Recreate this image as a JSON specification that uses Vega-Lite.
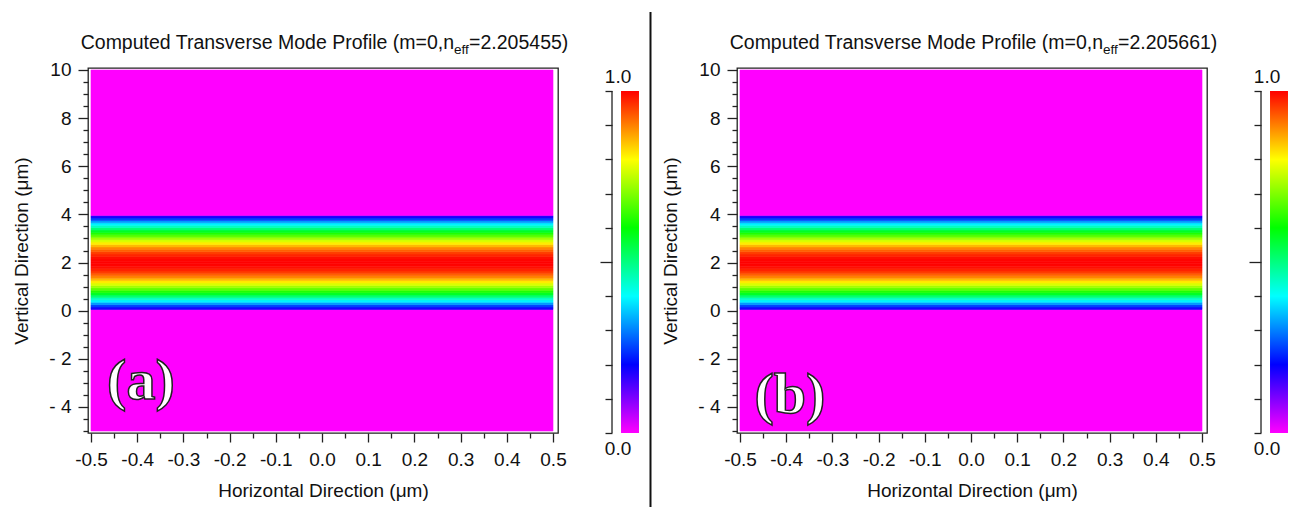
{
  "$schema": "https://vega.github.io/schema/vega-lite/v6.json",
  "background": "white",
  "padding": {"left": 12, "top": 10, "right": 5, "bottom": 0},
  "spacing": 8,
  "datasets": {
    "profile": [
      {"lo": -5, "hi": 0.05, "v": 0},
      {"lo": 0.05, "hi": 0.15, "v": 0.18},
      {"lo": 0.15, "hi": 0.25, "v": 0.25},
      {"lo": 0.25, "hi": 0.35, "v": 0.32},
      {"lo": 0.35, "hi": 0.45, "v": 0.39},
      {"lo": 0.45, "hi": 0.55, "v": 0.45},
      {"lo": 0.55, "hi": 0.65, "v": 0.51},
      {"lo": 0.65, "hi": 0.75, "v": 0.57},
      {"lo": 0.75, "hi": 0.85, "v": 0.625},
      {"lo": 0.85, "hi": 0.95, "v": 0.675},
      {"lo": 0.95, "hi": 1.05, "v": 0.725},
      {"lo": 1.05, "hi": 1.15, "v": 0.77},
      {"lo": 1.15, "hi": 1.25, "v": 0.815},
      {"lo": 1.25, "hi": 1.35, "v": 0.855},
      {"lo": 1.35, "hi": 1.45, "v": 0.895},
      {"lo": 1.45, "hi": 1.55, "v": 0.925},
      {"lo": 1.55, "hi": 1.65, "v": 0.952},
      {"lo": 1.65, "hi": 1.75, "v": 0.973},
      {"lo": 1.75, "hi": 1.85, "v": 0.988},
      {"lo": 1.85, "hi": 1.95, "v": 0.997},
      {"lo": 1.95, "hi": 2.05, "v": 1.0},
      {"lo": 2.05, "hi": 2.15, "v": 0.997},
      {"lo": 2.15, "hi": 2.25, "v": 0.988},
      {"lo": 2.25, "hi": 2.35, "v": 0.973},
      {"lo": 2.35, "hi": 2.45, "v": 0.952},
      {"lo": 2.45, "hi": 2.55, "v": 0.925},
      {"lo": 2.55, "hi": 2.65, "v": 0.895},
      {"lo": 2.65, "hi": 2.75, "v": 0.855},
      {"lo": 2.75, "hi": 2.85, "v": 0.815},
      {"lo": 2.85, "hi": 2.95, "v": 0.77},
      {"lo": 2.95, "hi": 3.05, "v": 0.725},
      {"lo": 3.05, "hi": 3.15, "v": 0.675},
      {"lo": 3.15, "hi": 3.25, "v": 0.625},
      {"lo": 3.25, "hi": 3.35, "v": 0.57},
      {"lo": 3.35, "hi": 3.45, "v": 0.51},
      {"lo": 3.45, "hi": 3.55, "v": 0.45},
      {"lo": 3.55, "hi": 3.65, "v": 0.39},
      {"lo": 3.65, "hi": 3.75, "v": 0.32},
      {"lo": 3.75, "hi": 3.85, "v": 0.25},
      {"lo": 3.85, "hi": 3.95, "v": 0.18},
      {"lo": 3.95, "hi": 10, "v": 0}
    ],
    "one": [{}]
  },
  "hconcat": [
    {
      "width": 470,
      "height": 365,
      "layer": [
        {
          "layer": [
            {
              "data": {"name": "profile"},
              "mark": {"type": "rect", "strokeWidth": 0.6},
              "encoding": {
                "x": {"datum": -0.5, "type": "quantitative",
                  "scale": {"domain": [-0.5065, 0.5108], "nice": false, "zero": false},
                  "axis": {
                    "orient": "bottom",
                    "values": [-0.5,-0.45,-0.4,-0.35,-0.3,-0.25,-0.2,-0.15,-0.1,-0.05,0,0.05,0.1,0.15,0.2,0.25,0.3,0.35,0.4,0.45,0.5],
                    "tickCount": 100,
                    "labelExpr": "round(datum.value*20) % 2 == 0 ? (datum.value < -0.001 ? '-' : '') + format(abs(datum.value), '.1f') : ''",
                    "tickSize": {"condition": {"test": "round(datum.value*20) % 2 == 0", "value": 9}, "value": 5},
                    "labelPadding": 8,
                    "labelFlush": false,
                    "labelOverlap": false,
                    "title": "Horizontal Direction (μm)",
                    "titlePadding": 12
                  }},
                "x2": {"datum": 0.5},
                "y": {"field": "lo", "type": "quantitative",
                  "scale": {"domain": [-5.083, 10.083], "nice": false, "zero": false},
                  "axis": {
                    "orient": "left",
                    "values": [-5,-4.5,-4,-3.5,-3,-2.5,-2,-1.5,-1,-0.5,0,0.5,1,1.5,2,2.5,3,3.5,4,4.5,5,5.5,6,6.5,7,7.5,8,8.5,9,9.5,10],
                    "tickCount": 100,
                    "labelExpr": "datum.value % 2 == 0 ? (datum.value < 0 ? '- ' + abs(datum.value) : '' + datum.value) : ''",
                    "tickSize": {"condition": {"test": "datum.value % 2 == 0", "value": 10}, "value": 5},
                    "labelPadding": 7,
                    "labelOverlap": false,
                    "labelFlush": false,
                    "title": "Vertical Direction (μm)",
                    "titlePadding": 17
                  }},
                "y2": {"field": "hi"},
                "fill": {"field": "v", "type": "quantitative", "legend": null,
                  "scale": {"domain": [0,0.1,0.2,0.3,0.4,0.5,0.6,0.7,0.8,0.9,1],
                    "range": ["#ff00ff","#8000ff","#0000ff","#0080ff","#00ffff","#00ff80","#00ff00","#80ff00","#ffff00","#ff8000","#ff0000"],
                    "interpolate": "rgb"}},
                "stroke": {"field": "v", "type": "quantitative", "legend": null,
                  "scale": {"domain": [0,0.1,0.2,0.3,0.4,0.5,0.6,0.7,0.8,0.9,1],
                    "range": ["#ff00ff","#8000ff","#0000ff","#0080ff","#00ffff","#00ff80","#00ff00","#80ff00","#ffff00","#ff8000","#ff0000"],
                    "interpolate": "rgb"}}
              }
            },
            {
              "data": {"name": "one"},
              "mark": {"type": "text", "text": "Computed Transverse Mode Profile (m=0,n", "align": "right", "baseline": "alphabetic", "font": "Liberation Sans", "fontSize": 19.5, "fill": "#111"},
              "encoding": {
                "x": {"datum": 0.2859, "type": "quantitative"},
                "y": {"datum": 10.872, "type": "quantitative"}
              }
            },
            {
              "data": {"name": "one"},
              "mark": {"type": "text", "text": "eff", "align": "left", "baseline": "alphabetic", "font": "Liberation Sans", "fontSize": 13.5, "fill": "#111"},
              "encoding": {
                "x": {"datum": 0.2859, "type": "quantitative"},
                "y": {"datum": 10.665, "type": "quantitative"}
              }
            },
            {
              "data": {"name": "one"},
              "mark": {"type": "text", "text": "=2.205455)", "align": "left", "baseline": "alphabetic", "font": "Liberation Sans", "fontSize": 19.5, "fill": "#111"},
              "encoding": {
                "x": {"datum": 0.3184, "type": "quantitative"},
                "y": {"datum": 10.872, "type": "quantitative"}
              }
            },
            {
              "data": {"name": "one"},
              "mark": {"type": "text", "text": "(a)", "align": "center", "baseline": "middle", "font": "Liberation Serif", "fontWeight": "bold", "fontSize": 58, "fill": "white", "stroke": "#222", "strokeWidth": 1.5},
              "encoding": {
                "x": {"datum": -0.392, "type": "quantitative"},
                "y": {"datum": -2.96, "type": "quantitative"}
              }
            },
            {
              "data": {"name": "one"},
              "mark": {"type": "rule", "stroke": "#111", "strokeWidth": 2},
              "encoding": {
                "x": {"datum": 0.711, "type": "quantitative"},
                "y": {"datum": 12.41, "type": "quantitative"},
                "y2": {"datum": -8.24}
              }
            }
          ]
        },
        {
          "layer": [
            {
              "data": {"name": "one"},
              "mark": {"type": "rect", "fill": {"gradient": "linear", "x1": 0, "y1": 1, "x2": 0, "y2": 0,
                "stops": [
                  {"offset": 0, "color": "#ff00ff"}, {"offset": 0.1, "color": "#8000ff"}, {"offset": 0.2, "color": "#0000ff"},
                  {"offset": 0.3, "color": "#0080ff"}, {"offset": 0.4, "color": "#00ffff"}, {"offset": 0.5, "color": "#00ff80"},
                  {"offset": 0.6, "color": "#00ff00"}, {"offset": 0.7, "color": "#80ff00"}, {"offset": 0.8, "color": "#ffff00"},
                  {"offset": 0.9, "color": "#ff8000"}, {"offset": 1, "color": "#ff0000"}]}},
              "encoding": {
                "x": {"datum": 0.6472, "type": "quantitative"},
                "x2": {"datum": 0.6861},
                "y": {"datum": 0, "type": "quantitative",
                  "scale": {"domain": [0, 1.0673], "nice": false, "zero": false},
                  "axis": {
                    "orient": "right",
                    "offset": 54,
                    "values": [0,0.1,0.2,0.3,0.4,0.5,0.6,0.7,0.8,0.9,1],
                    "tickCount": 100,
                    "labels": false,
                    "domain": false,
                    "title": null,
                    "tickSize": {"condition": {"test": "abs(datum.value - 0.5) < 0.01", "value": -12}, "value": -7}
                  }},
                "y2": {"datum": 1}
              }
            },
            {
              "data": {"name": "one"},
              "mark": {"type": "rule", "stroke": "#222", "strokeWidth": 1.3},
              "encoding": {
                "x": {"datum": 0.6277, "type": "quantitative"},
                "y": {"datum": 0, "type": "quantitative"},
                "y2": {"datum": 1}
              }
            },
            {
              "data": {"name": "one"},
              "mark": {"type": "text", "text": "1.0", "align": "center", "baseline": "middle", "font": "Liberation Sans", "fontSize": 19, "fill": "#111"},
              "encoding": {
                "x": {"datum": 0.6407, "type": "quantitative"},
                "y": {"datum": 1.041, "type": "quantitative"}
              }
            },
            {
              "data": {"name": "one"},
              "mark": {"type": "text", "text": "0.0", "align": "center", "baseline": "middle", "font": "Liberation Sans", "fontSize": 19, "fill": "#111"},
              "encoding": {
                "x": {"datum": 0.6407, "type": "quantitative"},
                "y": {"datum": -0.047, "type": "quantitative"}
              }
            }
          ]
        }
      ],
      "resolve": {"scale": {"y": "independent"}, "axis": {"y": "independent"}}
    },
    {
      "width": 470,
      "height": 365,
      "layer": [
        {
          "layer": [
            {
              "data": {"name": "profile"},
              "mark": {"type": "rect", "strokeWidth": 0.6},
              "encoding": {
                "x": {"datum": -0.5, "type": "quantitative",
                  "scale": {"domain": [-0.5065, 0.5108], "nice": false, "zero": false},
                  "axis": {
                    "orient": "bottom",
                    "values": [-0.5,-0.45,-0.4,-0.35,-0.3,-0.25,-0.2,-0.15,-0.1,-0.05,0,0.05,0.1,0.15,0.2,0.25,0.3,0.35,0.4,0.45,0.5],
                    "tickCount": 100,
                    "labelExpr": "round(datum.value*20) % 2 == 0 ? (datum.value < -0.001 ? '-' : '') + format(abs(datum.value), '.1f') : ''",
                    "tickSize": {"condition": {"test": "round(datum.value*20) % 2 == 0", "value": 9}, "value": 5},
                    "labelPadding": 8,
                    "labelFlush": false,
                    "labelOverlap": false,
                    "title": "Horizontal Direction (μm)",
                    "titlePadding": 12
                  }},
                "x2": {"datum": 0.5},
                "y": {"field": "lo", "type": "quantitative",
                  "scale": {"domain": [-5.083, 10.083], "nice": false, "zero": false},
                  "axis": {
                    "orient": "left",
                    "values": [-5,-4.5,-4,-3.5,-3,-2.5,-2,-1.5,-1,-0.5,0,0.5,1,1.5,2,2.5,3,3.5,4,4.5,5,5.5,6,6.5,7,7.5,8,8.5,9,9.5,10],
                    "tickCount": 100,
                    "labelExpr": "datum.value % 2 == 0 ? (datum.value < 0 ? '- ' + abs(datum.value) : '' + datum.value) : ''",
                    "tickSize": {"condition": {"test": "datum.value % 2 == 0", "value": 10}, "value": 5},
                    "labelPadding": 7,
                    "labelOverlap": false,
                    "labelFlush": false,
                    "title": "Vertical Direction (μm)",
                    "titlePadding": 17
                  }},
                "y2": {"field": "hi"},
                "fill": {"field": "v", "type": "quantitative", "legend": null,
                  "scale": {"domain": [0,0.1,0.2,0.3,0.4,0.5,0.6,0.7,0.8,0.9,1],
                    "range": ["#ff00ff","#8000ff","#0000ff","#0080ff","#00ffff","#00ff80","#00ff00","#80ff00","#ffff00","#ff8000","#ff0000"],
                    "interpolate": "rgb"}},
                "stroke": {"field": "v", "type": "quantitative", "legend": null,
                  "scale": {"domain": [0,0.1,0.2,0.3,0.4,0.5,0.6,0.7,0.8,0.9,1],
                    "range": ["#ff00ff","#8000ff","#0000ff","#0080ff","#00ffff","#00ff80","#00ff00","#80ff00","#ffff00","#ff8000","#ff0000"],
                    "interpolate": "rgb"}}
              }
            },
            {
              "data": {"name": "one"},
              "mark": {"type": "text", "text": "Computed Transverse Mode Profile (m=0,n", "align": "right", "baseline": "alphabetic", "font": "Liberation Sans", "fontSize": 19.5, "fill": "#111"},
              "encoding": {
                "x": {"datum": 0.2859, "type": "quantitative"},
                "y": {"datum": 10.872, "type": "quantitative"}
              }
            },
            {
              "data": {"name": "one"},
              "mark": {"type": "text", "text": "eff", "align": "left", "baseline": "alphabetic", "font": "Liberation Sans", "fontSize": 13.5, "fill": "#111"},
              "encoding": {
                "x": {"datum": 0.2859, "type": "quantitative"},
                "y": {"datum": 10.665, "type": "quantitative"}
              }
            },
            {
              "data": {"name": "one"},
              "mark": {"type": "text", "text": "=2.205661)", "align": "left", "baseline": "alphabetic", "font": "Liberation Sans", "fontSize": 19.5, "fill": "#111"},
              "encoding": {
                "x": {"datum": 0.3184, "type": "quantitative"},
                "y": {"datum": 10.872, "type": "quantitative"}
              }
            },
            {
              "data": {"name": "one"},
              "mark": {"type": "text", "text": "(b)", "align": "center", "baseline": "middle", "font": "Liberation Serif", "fontWeight": "bold", "fontSize": 58, "fill": "white", "stroke": "#222", "strokeWidth": 1.5},
              "encoding": {
                "x": {"datum": -0.392, "type": "quantitative"},
                "y": {"datum": -3.55, "type": "quantitative"}
              }
            }
          ]
        },
        {
          "layer": [
            {
              "data": {"name": "one"},
              "mark": {"type": "rect", "fill": {"gradient": "linear", "x1": 0, "y1": 1, "x2": 0, "y2": 0,
                "stops": [
                  {"offset": 0, "color": "#ff00ff"}, {"offset": 0.1, "color": "#8000ff"}, {"offset": 0.2, "color": "#0000ff"},
                  {"offset": 0.3, "color": "#0080ff"}, {"offset": 0.4, "color": "#00ffff"}, {"offset": 0.5, "color": "#00ff80"},
                  {"offset": 0.6, "color": "#00ff00"}, {"offset": 0.7, "color": "#80ff00"}, {"offset": 0.8, "color": "#ffff00"},
                  {"offset": 0.9, "color": "#ff8000"}, {"offset": 1, "color": "#ff0000"}]}},
              "encoding": {
                "x": {"datum": 0.6472, "type": "quantitative"},
                "x2": {"datum": 0.6861},
                "y": {"datum": 0, "type": "quantitative",
                  "scale": {"domain": [0, 1.0673], "nice": false, "zero": false},
                  "axis": {
                    "orient": "right",
                    "offset": 54,
                    "values": [0,0.1,0.2,0.3,0.4,0.5,0.6,0.7,0.8,0.9,1],
                    "tickCount": 100,
                    "labels": false,
                    "domain": false,
                    "title": null,
                    "tickSize": {"condition": {"test": "abs(datum.value - 0.5) < 0.01", "value": -12}, "value": -7}
                  }},
                "y2": {"datum": 1}
              }
            },
            {
              "data": {"name": "one"},
              "mark": {"type": "rule", "stroke": "#222", "strokeWidth": 1.3},
              "encoding": {
                "x": {"datum": 0.6277, "type": "quantitative"},
                "y": {"datum": 0, "type": "quantitative"},
                "y2": {"datum": 1}
              }
            },
            {
              "data": {"name": "one"},
              "mark": {"type": "text", "text": "1.0", "align": "center", "baseline": "middle", "font": "Liberation Sans", "fontSize": 19, "fill": "#111"},
              "encoding": {
                "x": {"datum": 0.6407, "type": "quantitative"},
                "y": {"datum": 1.041, "type": "quantitative"}
              }
            },
            {
              "data": {"name": "one"},
              "mark": {"type": "text", "text": "0.0", "align": "center", "baseline": "middle", "font": "Liberation Sans", "fontSize": 19, "fill": "#111"},
              "encoding": {
                "x": {"datum": 0.6407, "type": "quantitative"},
                "y": {"datum": -0.047, "type": "quantitative"}
              }
            }
          ]
        }
      ],
      "resolve": {"scale": {"y": "independent"}, "axis": {"y": "independent"}}
    }
  ],
  "config": {
    "font": "Liberation Sans",
    "view": {"stroke": "#222", "strokeWidth": 1.3},
    "axis": {
      "labelFont": "Liberation Sans",
      "titleFont": "Liberation Sans",
      "labelFontSize": 19,
      "titleFontSize": 19,
      "titleFontWeight": "normal",
      "labelColor": "#111",
      "titleColor": "#111",
      "tickColor": "#222",
      "tickWidth": 1.3,
      "domain": false,
      "grid": false
    }
  }
}
